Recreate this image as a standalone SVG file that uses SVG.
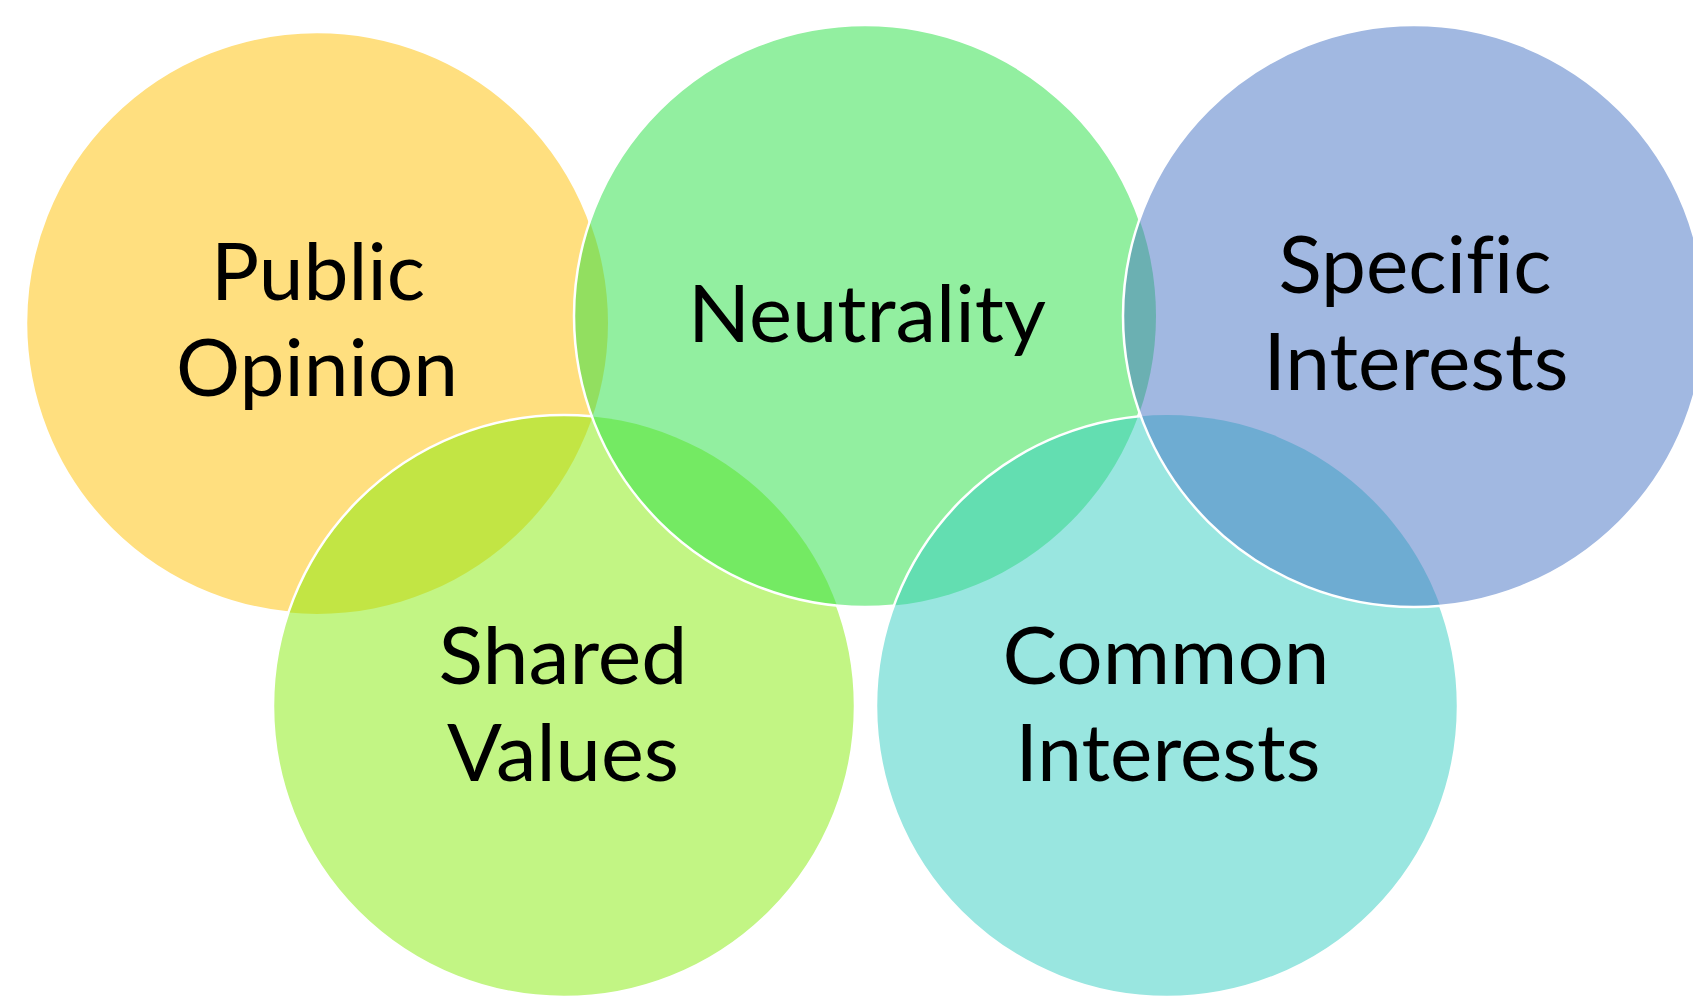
<svg xmlns="http://www.w3.org/2000/svg" width="1693" height="998" viewBox="0 0 1693 998">
  <style>
    .disc { stroke: none; fill-opacity: 0.5; }
    .rim { fill: none; stroke: #FFFFFF; stroke-width: 2.5; }
    .label { font-family: Lato, "Open Sans", "Liberation Sans", sans-serif; font-size: 80px; fill: #000000; text-anchor: middle; font-variant-ligatures: none; font-feature-settings: "liga" 0; }
  </style>
  <defs>
    <!-- each rim is hidden where a later (upper) circle covers it -->
    <mask id="m-po" maskUnits="userSpaceOnUse" x="0" y="0" width="1693" height="998">
      <rect width="1693" height="998" fill="#fff"/>
      <circle cx="564" cy="706" r="291" fill="#000"/>
      <circle cx="865" cy="316" r="291" fill="#000"/>
    </mask>
    <mask id="m-sv" maskUnits="userSpaceOnUse" x="0" y="0" width="1693" height="998">
      <rect width="1693" height="998" fill="#fff"/>
      <circle cx="865" cy="316" r="291" fill="#000"/>
      <circle cx="1167" cy="706" r="291" fill="#000"/>
    </mask>
    <mask id="m-n" maskUnits="userSpaceOnUse" x="0" y="0" width="1693" height="998">
      <rect width="1693" height="998" fill="#fff"/>
      <circle cx="1167" cy="706" r="291" fill="#000"/>
      <circle cx="1414" cy="316" r="291" fill="#000"/>
    </mask>
    <mask id="m-ci" maskUnits="userSpaceOnUse" x="0" y="0" width="1693" height="998">
      <rect width="1693" height="998" fill="#fff"/>
      <circle cx="1414" cy="316" r="291" fill="#000"/>
    </mask>
  </defs>

  <rect width="1693" height="998" fill="#FFFFFF"/>

  <g id="public-opinion">
    <circle class="disc" cx="317" cy="323" r="291" fill="#FFC000"/>
    <circle class="rim" cx="317" cy="323" r="291" mask="url(#m-po)"/>
    <text class="label" x="318" y="300" textLength="214" lengthAdjust="spacingAndGlyphs">Public</text>
    <text class="label" x="317" y="396" textLength="282" lengthAdjust="spacingAndGlyphs">Opinion</text>
  </g>

  <g id="shared-values">
    <circle class="disc" cx="564" cy="706" r="291" fill="#85EB09"/>
    <circle class="rim" cx="564" cy="706" r="291" mask="url(#m-sv)"/>
    <text class="label" x="563" y="684" textLength="249" lengthAdjust="spacingAndGlyphs">Shared</text>
    <text class="label" x="563" y="781" textLength="232" lengthAdjust="spacingAndGlyphs">Values</text>
  </g>

  <g id="neutrality">
    <circle class="disc" cx="865" cy="316" r="291" fill="#25DF41"/>
    <circle class="rim" cx="865" cy="316" r="291" mask="url(#m-n)"/>
    <text class="label" x="867" y="342" textLength="358" lengthAdjust="spacingAndGlyphs">Neutrality</text>
  </g>

  <g id="common-interests">
    <circle class="disc" cx="1167" cy="706" r="291" fill="#33CDC1"/>
    <circle class="rim" cx="1167" cy="706" r="291" mask="url(#m-ci)"/>
    <text class="label" x="1166" y="684" textLength="327" lengthAdjust="spacingAndGlyphs">Common</text>
    <text class="label" x="1168" y="781" textLength="305" lengthAdjust="spacingAndGlyphs">Interests</text>
  </g>

  <g id="specific-interests">
    <circle class="disc" cx="1414" cy="316" r="291" fill="#4472C4"/>
    <circle class="rim" cx="1414" cy="316" r="291"/>
    <text class="label" x="1415" y="293" textLength="273" lengthAdjust="spacingAndGlyphs">Specific</text>
    <text class="label" x="1416" y="390" textLength="305" lengthAdjust="spacingAndGlyphs">Interests</text>
  </g>

  <g id="connectors"/>
</svg>
